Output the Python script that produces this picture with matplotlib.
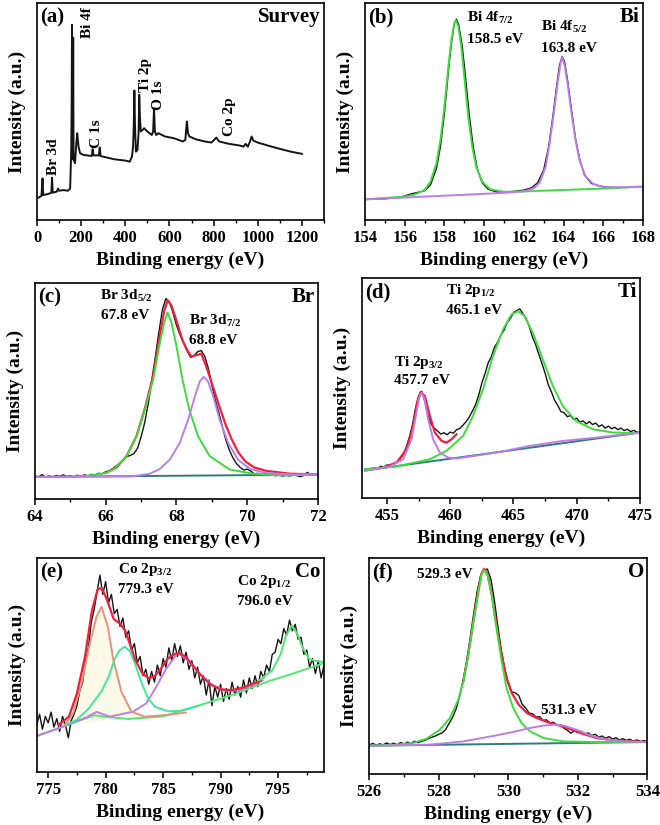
import matplotlib
matplotlib.use('Agg')
import matplotlib.pyplot as plt
import numpy as np
from matplotlib.ticker import MultipleLocator

plt.rcParams['font.family'] = ['Liberation Serif', 'DejaVu Serif']
plt.rcParams['font.weight'] = 'bold'
plt.rcParams['mathtext.fontset'] = 'custom'
plt.rcParams['mathtext.bf'] = 'Liberation Serif:bold'
plt.rcParams['mathtext.rm'] = 'Liberation Serif:bold'

BLACK = '#141414'
GREEN = '#3ddc3d'
PURPLE = '#bb7ee8'
RED = '#f0203c'
TEAL = '#2f7c78'

# ---- (a) survey ----
a_ev = [0, 10, 20, 25, 28, 50, 65, 68, 71, 90, 95, 100, 120, 140, 150, 155, 157, 158.5, 160.5,
        162, 163.8, 165.5, 172, 178, 182, 188, 195, 210, 248, 252, 256, 280, 284, 288, 300,
        350, 400, 420, 430, 435, 438, 441, 444, 448, 455, 460, 463, 466, 470, 478, 485, 500,
        520, 526, 530, 534, 540, 550, 580, 620, 660, 672, 676, 679, 684, 690, 720, 760, 790,
        805, 812, 825, 870, 920, 935, 945, 955, 965, 972, 980, 1000, 1050, 1100, 1150, 1200]
a_int = [10.0, 10.5, 11.1, 19.2, 11.5, 12.0, 12.6, 19.5, 12.6, 13.1, 14.5, 13.5, 13.8, 13.5, 14.5, 32, 55, 90, 30,
         28, 84, 28, 26.2, 35.4, 40, 33.8, 30.8, 30, 29.5, 32.6, 29.8, 29.8, 33.4, 29.5, 29.2,
         28, 27.4, 26.9, 29.2, 33.8, 43, 59.7, 43, 31.5, 32.3, 40, 57.7, 47.7, 40.8, 41.5, 42.3, 40.8,
         39.2, 40.8, 51.5, 40.8, 39.2, 40, 38.5, 37.7, 36.2, 36.9, 42.3, 45.4, 40, 38.5, 37.2, 36.2, 35.7,
         37.2, 38, 36.2, 35.1, 34.3, 33.8, 35.1, 33.8, 36.2, 38.5, 36.6, 35.7, 34.2, 32.8, 31.5, 30.5]
a_labels = ['Bi 4f', 'Br 3d', 'C 1s', 'Ti 2p', 'O 1s', 'Co 2p']
a_label_ev = [227, 76, 269, 493, 551, 874]
a_label_int = [83.8, 20.8, 33, 59.2, 50.8, 38.5]

# ---- (b) Bi 4f ----
b_ev = [154, 155, 155.8, 156.3, 156.6, 157, 157.3, 157.6, 157.8, 158.0, 158.2, 158.35, 158.5, 158.6, 158.72,
        158.9, 159.05, 159.25, 159.45, 159.65, 159.9, 160.2, 160.6, 161, 161.5, 162, 162.4, 162.7, 163, 163.25,
        163.45, 163.65, 163.8, 163.93, 164.05, 164.2, 164.4, 164.6, 164.8, 165.05, 165.4, 165.8, 166.2, 166.8]
b_data = [9.5, 9.8, 10.5, 12, 12.6, 13.5, 16.2, 23.8, 33.8, 49.2, 68.5, 81.5, 90.5, 92.6, 90,
          80, 67, 48.5, 33.8, 23.8, 17.2, 14.2, 13, 12.8, 13.2, 13.8, 14.9, 17.2, 23.1, 33.8,
          46.9, 61.5, 71.5, 75.4, 73, 64.6, 50.8, 37.7, 28.5, 20.8, 16.9, 15.7, 15.1, 14.9]
b_g_ev = [154, 156, 156.5, 157, 157.3, 157.6, 157.8, 158.0, 158.2, 158.35, 158.5, 158.58, 158.7, 158.85,
          159.0, 159.2, 159.4, 159.6, 159.9, 160.3, 161, 162, 166, 168]
b_g_int = [9.5, 10.8, 11.7, 13.8, 17.7, 26.2, 36.9, 52.3, 70.8, 83.1, 90.8, 92, 89.2, 80,
           66.2, 47.7, 33.8, 24.6, 17.7, 14.2, 13, 13.2, 14.5, 15.4]
b_p_ev = [154, 161, 162, 162.5, 162.8, 163.1, 163.3, 163.5, 163.7, 163.85, 163.93, 164.05, 164.2, 164.4,
          164.6, 164.8, 165.1, 165.5, 166, 167, 168]
b_p_int = [9.5, 12.5, 13.2, 14.6, 17.2, 24.6, 35.4, 48.5, 63, 72.3, 75.1, 71.5, 63, 49.2,
           36.9, 27.7, 20.3, 16.6, 15.1, 15.1, 15.4]

# ---- (c) Br 3d ----
c_data = [10.6, 10.2, 11.3, 10.0, 10.7, 10.1, 10.9, 10.4, 11.2, 10.3,
          10.8, 10.2, 11.0, 10.5, 11.2, 10.6, 11.4, 11.0, 11.9, 11.6,
          12.6, 13.0, 14.1, 15.4, 16.6, 18.2, 19.6, 20.2, 21.0, 23.5,
          28.8, 35.2, 44.0, 54.8, 65.5, 77.0, 87.5, 92.8, 91.2, 86.3,
          80.4, 76.0, 72.3, 68.6, 65.6, 66.4, 68.2, 68.7, 66.0, 60.5,
          52.8, 45.6, 39.8, 33.2, 27.1, 22.4, 18.9, 16.3, 14.6, 13.4,
          13.8, 12.9, 11.6, 11.9, 11.2, 11.6, 10.8, 11.4, 10.7, 11.3,
          10.5, 11.1, 10.6, 11.4, 10.8, 10.3, 10.9, 12.3, 11.1, 11.6,
          11.3]
c_ev = 64.0 + 0.1 * np.arange(len(c_data))
c_bg_ev = [64, 72]
c_bg_int = [10.2, 11.3]
c_g_ev = [64.0, 65.0, 65.5, 66.0, 66.21, 66.59, 66.87, 67.11, 67.34, 67.51, 67.65, 67.75, 67.86, 68.0,
          68.17, 68.36, 68.61, 68.94, 69.51, 70.16, 71.01, 72.0]
c_g_int = [10.2, 10.3, 10.8, 12.0, 13.6, 19.8, 29.0, 41.4, 55.2, 70.7, 81.5, 86.4, 81.5, 70.7,
           55.2, 41.4, 29.0, 19.8, 13.6, 11.7, 10.8, 11.3]
c_p_ev = [64.0, 66.78, 67.25, 67.53, 67.81, 68.09, 68.33, 68.52, 68.66, 68.77, 68.89, 69.04, 69.22,
          69.46, 69.74, 70.07, 70.54, 71.2, 72.0]
c_p_int = [10.2, 10.5, 11.7, 13.9, 18.2, 25.9, 36.7, 47.5, 54.5, 56.5, 54.5, 47.5, 36.7,
           25.9, 18.2, 13.9, 12.0, 11.4, 11.4]
c_r_ev = [66.0, 66.3, 66.59, 66.87, 67.11, 67.34, 67.51, 67.65, 67.75, 67.86, 68.0, 68.17, 68.3, 68.42,
          68.55, 68.7, 68.85, 69.0, 69.13, 69.25, 69.4, 69.55, 69.75, 69.95, 70.2, 70.54, 71.2, 72.0]
c_r_int = [12.1, 14.5, 19.9, 29.1, 42.1, 57.0, 73.9, 87.0, 92.0, 89.5, 82.5, 73.5, 69.0, 66.0,
           66.5, 67.3, 61.0, 53.5, 47.0, 41.0, 34.0, 28.0, 21.5, 17.3, 14.6, 13.0, 11.7, 11.4]

# ---- (d) Ti 2p ----
d_data = [13.3, 12.8, 13.6,
          13.9, 13.5, 14.6, 14.2,
          15.2, 14.9, 15.8, 16.4,
          17.6, 19.5, 22.9, 27.5,
          33.0, 40.8, 46.5, 48.6,
          44.0, 37.5, 33.6, 31.8,
          30.6, 29.2, 29.8, 28.9,
          30.1, 29.6, 31.2, 31.7,
          33.2, 34.8, 36.9, 39.6,
          42.5, 46.8, 52.4, 56.6,
          61.5, 64.3, 68.6, 70.9,
          74.1, 76.3, 79.8, 81.6,
          84.3, 85.2, 85.9, 83.8,
          81.5, 77.9, 73.2, 69.8,
          65.4, 61.2, 56.8, 51.6,
          48.3, 44.5, 42.2, 39.4,
          38.9, 37.1, 37.6, 35.9,
          36.4, 34.6, 35.2, 33.8,
          34.9, 33.5, 34.2, 32.6,
          33.4, 31.9, 32.8, 31.6,
          32.3, 31.2, 31.9, 30.8,
          31.4, 30.3, 30.9, 30.1,
          29.9]
d_ev = 453.25 + 0.25 * np.arange(len(d_data))
d_bg_ev = [453.26, 475.0]
d_bg_int = [12.7, 29.9]
d_p_ev = [453.26, 455.23, 456.29, 456.94, 457.28, 457.55, 457.73, 457.94, 458.26, 458.65, 459.18, 459.83,
          460.49, 463.64, 466.27, 468.9, 471.53, 475.0]
d_p_int = [12.5, 14.5, 17.8, 26.8, 37.4, 45.7, 48.0, 45.7, 35.9, 26.8, 20.8, 18.6,
           18.1, 20.8, 23.8, 26.1, 27.6, 29.9]
d_g_ev = [453.26, 455.76, 458.39, 459.7, 461.02, 461.8, 462.59, 463.38, 464.17, 464.83, 465.35, 465.88,
          466.53, 467.32, 468.11, 468.9, 469.95, 471.27, 472.84, 475.0]
d_g_int = [13.3, 14.5, 17.8, 21.6, 28.4, 37.4, 49.5, 64.6, 76.6, 83.4, 84.9, 82.7,
           75.1, 63.0, 51.0, 41.9, 35.1, 31.4, 29.9, 29.6]
d_r_ev = [454.71, 455.76, 456.55, 457.07, 457.39, 457.65, 457.99, 458.39, 458.78, 459.31, 459.7, 460.1, 460.49]
d_r_int = [14.0, 16.3, 22.3, 32.9, 43.4, 48.3, 46.5, 37.4, 29.9, 26.1, 25.3, 26.8, 29.1]

# ---- (e) Co 2p ----
e_data = [22, 27, 20, 26,
          23, 28, 21, 25,
          19, 26, 22, 16,
          24, 27, 31, 38,
          42, 52, 58, 70,
          76, 84, 92, 83,
          89, 79, 83, 74,
          76, 68, 72, 63,
          66, 57, 60, 51,
          54, 45, 48, 41,
          47, 42, 50, 45,
          53, 49, 58, 52,
          60, 54, 59, 51,
          56, 48, 52, 44,
          49, 41, 45, 36,
          43, 31, 40, 35,
          41, 33, 39, 34,
          42, 36, 40, 35,
          43, 37, 44, 39,
          45, 40, 47, 44,
          50, 47, 55, 56,
          62, 60, 67, 64,
          71, 66, 69, 62,
          63, 55, 57, 49,
          53, 46, 52, 44,
          50]
e_ev = 774.0 + 0.25 * np.arange(len(e_data))
e_bg_ev = [774.1, 776.5, 778.3, 779.0, 780.0, 782.0, 785.0, 788.0, 791.0, 794.0, 796.0, 799.0]
e_bg_int = [17.0, 21.6, 25.2, 26.5, 25.8, 24.8, 26.0, 30.9, 36.0, 42.1, 45.5, 50.9]
e_o_ev = [776.46, 777.18, 777.9, 778.62, 779.2, 779.64, 780.21, 780.65, 781.37, 782.24, 783.39, 785.42, 787.0]
e_o_int = [22.1, 27.5, 41.4, 59.9, 72.5, 77.2, 67.6, 52.9, 37.5, 28.2, 25.9, 26.7, 27.8]
e_c_ev = [776.46, 777.5, 778.5, 779.64, 780.3, 780.79, 781.2, 781.66, 782.1, 782.53, 783.1, 783.68, 784.3,
          785.42, 786.5, 788.0]
e_c_int = [21.9, 24.5, 29.5, 37.7, 45.0, 52.9, 56.8, 58.6, 56.5, 51.0, 42.0, 34.5, 30.5,
           28.4, 28.6, 30.9]
e_p_ev = [774.1, 776.5, 778.3, 779.2, 780.36, 782.38, 783.54, 784.4, 785.27, 786.28, 787.0, 788.16, 789.32,
          790.47, 791.63, 792.79, 793.65]
e_p_int = [17.0, 21.6, 25.5, 28.1, 25.9, 28.2, 32.1, 39.8, 48.3, 55.6, 52.9, 46.0, 40.6,
           38.0, 38.3, 40.6, 42.9]
e_g_ev = [793.36, 794.5, 795.24, 795.68, 796.2, 796.69, 797.12, 797.7, 798.28, 799.0]
e_g_int = [42.9, 47.5, 55.2, 63.7, 68.4, 64.5, 58.3, 52.9, 51.9, 51.4]
e_r_ev = [775.9, 776.8, 777.5, 778.2, 778.8, 779.3, 779.65, 780.1, 780.7, 781.3, 781.7, 782.1, 782.6,
          783.2, 783.7, 784.2, 784.8, 785.4, 786.0, 786.4, 787.0, 787.6, 788.3, 789.1, 790.0, 791.0,
          792.0, 793.0, 793.5]
e_r_int = [22.0, 25.9, 36.7, 53.7, 75.3, 85.3, 86.1, 80.7, 71.5, 69.1, 66.0, 59.9, 52.2,
           46.0, 44.0, 44.4, 48.3, 52.9, 55.2, 55.6, 53.7, 49.8, 45.2, 41.0, 38.6, 38.3,
           39.5, 41.7, 42.6]

# ---- (f) O 1s ----
f_data = [13.4, 14.2, 13.3, 14.0, 13.5, 14.4, 13.6, 14.3, 13.5, 14.6,
          13.9, 14.8, 14.1, 15.2, 14.5, 15.1, 15.6, 16.4, 17.0, 17.6,
          18.4, 19.1, 20.6, 23.5, 26.3, 30.2, 36.0, 43.4, 52.1, 62.5,
          73.8, 84.2, 91.6, 94.4, 94.9, 90.2, 80.5, 68.4, 57.3, 48.6,
          42.2, 38.1, 37.6, 36.4, 32.3, 30.6, 28.2, 27.9, 26.3, 26.6,
          24.8, 25.1, 23.6, 24.0, 22.5, 22.9, 21.2, 20.3, 18.9, 20.1,
          19.2, 19.8, 18.6, 19.0, 17.8, 18.4, 17.1, 17.6, 16.5, 17.3,
          16.2, 16.8, 15.7, 16.4, 15.5, 16.1, 15.2, 15.8, 15.0, 15.5,
          15.1]
f_ev = 526.0 + 0.1 * np.arange(len(f_data))
f_bg_ev = [526, 534]
f_bg_int = [13.1, 14.8]
f_p_ev = [526.0, 527.75, 528.71, 529.66, 530.24, 530.62, 531.01, 531.3, 531.58, 531.97, 532.35, 532.83,
          533.31, 534.0]
f_p_int = [13.1, 13.6, 15.1, 17.9, 19.8, 21.3, 22.4, 22.8, 22.5, 20.5, 17.9, 15.9, 15.1, 14.8]
f_g_ev = [526.0, 526.79, 527.27, 527.65, 528.03, 528.32, 528.56, 528.71, 528.85, 529.0, 529.14, 529.23,
          529.3, 529.4, 529.52, 529.66, 529.81, 529.95, 530.14, 530.38, 530.62, 531.01, 531.58, 532.54, 534.0]
f_g_int = [13.1, 13.6, 14.4, 16.4, 20.5, 25.9, 34.4, 42.9, 55.2, 70.7, 84.6, 92.3,
           94.6, 92.3, 83.0, 67.6, 52.2, 39.8, 30.6, 23.6, 19.8, 16.7, 15.1, 14.8, 14.8]
f_r_ev = [528.71, 528.85, 529.0, 529.14, 529.23, 529.3, 529.4, 529.52, 529.66, 529.81, 529.95, 530.1,
          530.3, 530.54, 530.83, 531.12, 531.4, 531.78, 532.16, 532.54, 533.02, 533.5, 534.0]
f_r_int = [43.2, 55.5, 71.0, 85.0, 92.8, 95.0, 92.8, 83.8, 69.1, 55.2, 44.4, 37.5,
           32.1, 28.2, 25.9, 24.1, 22.8, 20.8, 18.5, 16.7, 15.6, 15.1, 14.8]

ANN = 11


def style(ax, xlim, major, minor, letter, element):
    ax.set_xlim(xlim)
    ax.set_ylim(0, 100)
    ax.set_yticks([])
    ax.xaxis.set_major_locator(MultipleLocator(major))
    ax.xaxis.set_minor_locator(MultipleLocator(minor))
    ax.tick_params(axis='x', which='major', direction='out', length=4, width=1.1, labelsize=12, pad=3)
    ax.tick_params(axis='x', which='minor', direction='out', length=2.5, width=1.0)
    for lab in ax.get_xticklabels():
        lab.set_fontweight('bold')
    ax.set_xlabel('Binding energy (eV)', fontsize=14, fontweight='bold', labelpad=4)
    ax.set_ylabel('Intensity (a.u.)', fontsize=14, fontweight='bold', labelpad=8)
    for s in ax.spines.values():
        s.set_linewidth(1.2)
    ax.text(0.012, 0.98, letter, transform=ax.transAxes, fontsize=15, fontweight='bold', ha='left', va='top')
    ax.text(0.988, 0.98, element, transform=ax.transAxes, fontsize=15, fontweight='bold', ha='right', va='top')


fig = plt.figure(figsize=(6.6, 8.25), dpi=100)

# (a)
ax = fig.add_axes([0.0561, 0.7333, 0.4348, 0.2630])
ax.plot(a_ev, a_int, color=BLACK, lw=1.4)
for lab, x, y in zip(a_labels, a_label_ev, a_label_int):
    ax.text(x, y, lab, rotation=90, ha='center', va='bottom', fontsize=ANN, fontweight='bold')
style(ax, (0, 1300), 200, 100, '(a)', 'Survey')

# (b)
ax = fig.add_axes([0.553, 0.7333, 0.4212, 0.2630])
ax.plot(b_ev, b_data, color=BLACK, lw=1.0)
ax.plot(b_g_ev, b_g_int, color=GREEN, lw=1.4)
ax.plot(b_p_ev, b_p_int, color=PURPLE, lw=1.4)
ax.text(159.15, 97, r'Bi 4f$_{\mathbf{7/2}}$', fontsize=ANN, ha='left', va='top')
ax.text(159.15, 86, '158.5 eV', fontsize=ANN, ha='left', va='top')
ax.text(162.84, 93, r'Bi 4f$_{\mathbf{5/2}}$', fontsize=ANN, ha='left', va='top')
ax.text(162.84, 82, '163.8 eV', fontsize=ANN, ha='left', va='top')
style(ax, (154, 168), 2, 1, '(b)', 'Bi')

# (c)
ax = fig.add_axes([0.053, 0.3952, 0.4288, 0.2618])
ax.plot(c_ev, c_data, color=BLACK, lw=1.0)
ax.plot(c_bg_ev, c_bg_int, color=TEAL, lw=1.4)
ax.plot(c_r_ev, c_r_int, color=RED, lw=1.6)
ax.plot(c_g_ev, c_g_int, color=GREEN, lw=1.4)
ax.plot(c_p_ev, c_p_int, color=PURPLE, lw=1.4)
ax.text(65.84, 98, r'Br 3d$_{\mathbf{5/2}}$', fontsize=ANN, ha='left', va='top')
ax.text(65.86, 88, '67.8 eV', fontsize=ANN, ha='left', va='top')
ax.text(68.36, 86.5, r'Br 3d$_{\mathbf{7/2}}$', fontsize=ANN, ha='left', va='top')
ax.text(68.36, 76.5, '68.8 eV', fontsize=ANN, ha='left', va='top')
style(ax, (64, 72), 2, 1, '(c)', 'Br')

# (d)
ax = fig.add_axes([0.548, 0.3958, 0.4217, 0.2673])
ax.plot(d_ev, d_data, color=BLACK, lw=1.0)
ax.plot(d_bg_ev, d_bg_int, color=TEAL, lw=1.4)
ax.plot(d_r_ev, d_r_int, color=RED, lw=1.6)
ax.plot(d_g_ev, d_g_int, color=GREEN, lw=1.4)
ax.plot(d_p_ev, d_p_int, color=PURPLE, lw=1.4)
ax.text(459.65, 98, r'Ti 2p$_{\mathbf{1/2}}$', fontsize=ANN, ha='left', va='top')
ax.text(459.65, 88, '465.1 eV', fontsize=ANN, ha='left', va='top')
ax.text(455.55, 65.5, r'Ti 2p$_{\mathbf{3/2}}$', fontsize=ANN, ha='left', va='top')
ax.text(455.55, 56.5, '457.7 eV', fontsize=ANN, ha='left', va='top')
style(ax, (453, 475), 5, 2.5, '(d)', 'Ti')

# (e)
ax = fig.add_axes([0.0556, 0.0642, 0.4353, 0.2594])
ax.plot(e_ev, e_data, color=BLACK, lw=1.0)
ax.fill(e_o_ev, e_o_int, color='#fdf8e2', lw=0, alpha=0.75)
ax.plot(e_bg_ev, e_bg_int, color='#52e672', lw=1.4)
ax.plot(e_p_ev, e_p_int, color=PURPLE, lw=1.4)
ax.plot(e_c_ev, e_c_int, color='#3de89c', lw=1.4)
ax.plot(e_o_ev, e_o_int, color='#e0967a', lw=1.4)
ax.plot(e_r_ev, e_r_int, color=RED, lw=1.6)
ax.plot(e_g_ev, e_g_int, color='#52e672', lw=1.4)
ax.text(781.08, 98.5, r'Co 2p$_{\mathbf{3/2}}$', fontsize=ANN, ha='left', va='top')
ax.text(781.1, 88.5, '779.3 eV', fontsize=ANN, ha='left', va='top')
ax.text(791.4, 93, r'Co 2p$_{\mathbf{1/2}}$', fontsize=ANN, ha='left', va='top')
ax.text(791.4, 82.5, '796.0 eV', fontsize=ANN, ha='left', va='top')
style(ax, (774, 799), 5, 2.5, '(e)', 'Co')

# (f)
ax = fig.add_axes([0.5595, 0.0618, 0.4212, 0.2618])
ax.plot(f_ev, f_data, color=BLACK, lw=1.0)
ax.plot(f_bg_ev, f_bg_int, color=TEAL, lw=1.4)
ax.plot(f_r_ev, f_r_int, color=RED, lw=1.6)
ax.plot(f_g_ev, f_g_int, color=GREEN, lw=1.4)
ax.plot(f_p_ev, f_p_int, color=PURPLE, lw=1.4)
ax.text(527.36, 95.5, '529.3 eV', fontsize=ANN, ha='left', va='top')
ax.text(530.93, 32.5, '531.3 eV', fontsize=ANN, ha='left', va='top')
style(ax, (526, 534), 2, 1, '(f)', 'O')

fig.savefig('out.png', dpi=100)
